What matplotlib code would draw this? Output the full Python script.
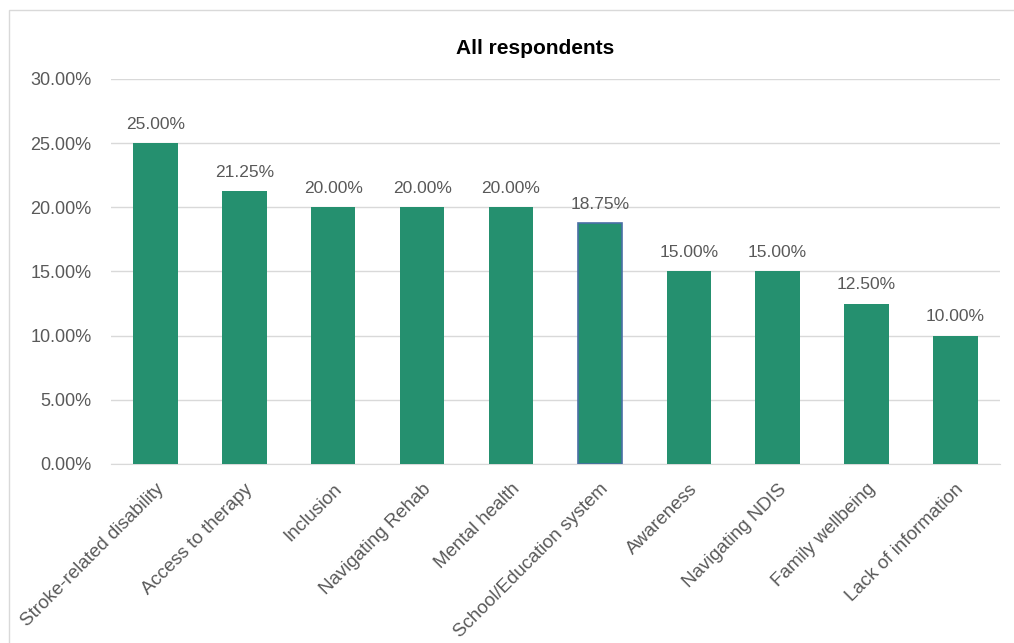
import matplotlib
matplotlib.use('Agg')
import matplotlib.pyplot as plt
from matplotlib.patches import Rectangle
from matplotlib.ticker import PercentFormatter

categories = ['Stroke-related disability', 'Access to therapy', 'Inclusion',
              'Navigating Rehab', 'Mental health', 'School/Education system',
              'Awareness', 'Navigating NDIS', 'Family wellbeing',
              'Lack of information']
values = [25.00, 21.25, 20.00, 20.00, 20.00, 18.75, 15.00, 15.00, 12.50, 10.00]

plt.rcParams['font.family'] = ['Liberation Sans', 'DejaVu Sans']
text_col = '#595959'
bar_col = '#25906F'

fig = plt.figure(figsize=(10.14, 6.43), dpi=100)
ax = fig.add_axes([0.1095, 0.2784, 0.8765, 0.5988])

x = range(len(categories))
bars = ax.bar(x, values, width=0.5, color=bar_col, zorder=3)
# the school/education bar has a blue outline in the original
bars[5].set_edgecolor('#4A6FA5')
bars[5].set_linewidth(1.2)

for xi, v in zip(x, values):
    ax.text(xi, v + 0.9, f'{v:.2f}%', ha='center', va='bottom',
            fontsize=12.5, color=text_col)

ax.set_xlim(-0.5, len(categories) - 0.5)
ax.set_ylim(0, 30)
ax.set_yticks([0, 5, 10, 15, 20, 25, 30])
ax.yaxis.set_major_formatter(PercentFormatter(decimals=2))
ax.grid(axis='y', color='#D9D9D9', linewidth=1, zorder=0)
for s in ['top', 'right', 'left']:
    ax.spines[s].set_visible(False)
ax.spines['bottom'].set_color('#D9D9D9')
ax.tick_params(axis='both', length=0, colors=text_col, labelsize=13)
ax.tick_params(axis='y', pad=14)
ax.tick_params(axis='x', pad=12, labelsize=13.5)
ax.set_xticks(list(x))
ax.set_xticklabels(categories, rotation=45, ha='right', rotation_mode='anchor')

fig.text(0.528, 0.925, 'All respondents', ha='center', va='center',
         fontsize=15, fontweight='bold', color='black')

# chart border
fig.patches.append(Rectangle((9 / 1014, -0.1), 1.2, 1 - 10 / 643 + 0.1,
                             transform=fig.transFigure, fill=False,
                             edgecolor='#D9D9D9', linewidth=1))

fig.savefig('out.png', dpi=100)
